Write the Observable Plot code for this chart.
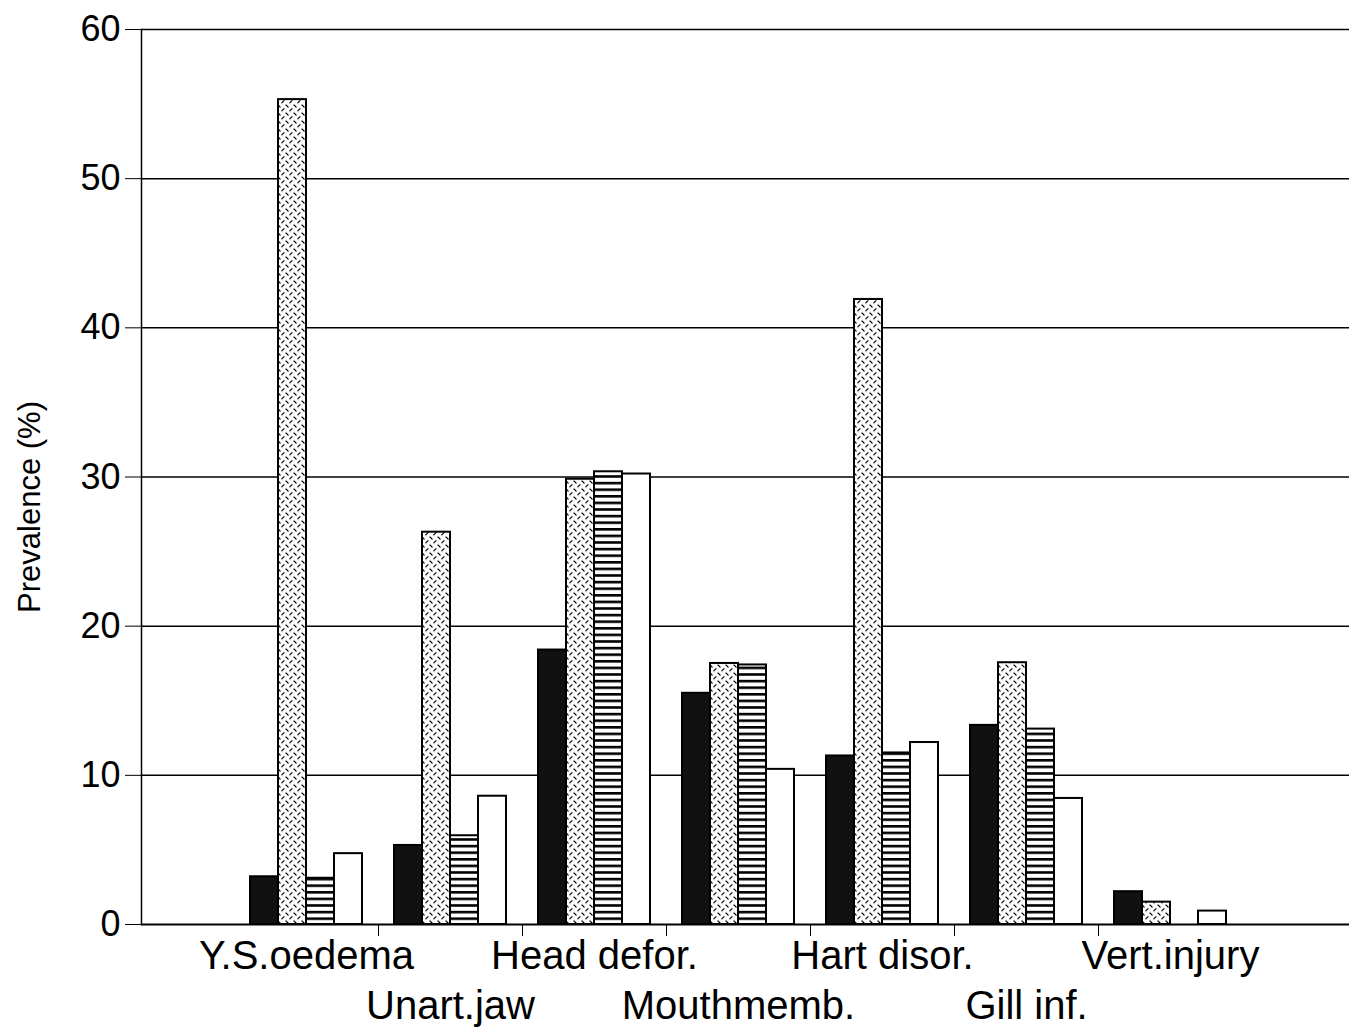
<!DOCTYPE html>
<html><head><meta charset="utf-8">
<script src="https://cdn.jsdelivr.net/npm/d3@7"></script>
<script src="https://cdn.jsdelivr.net/npm/@observablehq/plot@0.6"></script>
<style>
body{margin:0;background:#fff;}
#chart{position:relative;width:1349px;height:1027px;}
#chart svg.layer{position:absolute;left:0;top:0;}
</style>
</head><body>
<svg width="0" height="0" style="position:absolute">
<defs>
<pattern id="zig" patternUnits="userSpaceOnUse" width="8" height="8">
<rect width="8" height="8" fill="white"/>
<path d="M1,1L3.2,3.2M4.8,6.8L7,4.6" stroke="black" stroke-width="1.2" stroke-linecap="round"/>
</pattern>
<pattern id="stripes" patternUnits="userSpaceOnUse" width="8" height="6.6">
<rect width="8" height="6.6" fill="white"/>
<rect width="8" height="2.6" fill="black"/>
</pattern>
</defs></svg>
<div id="chart"></div>
<script>
const categories = ["Y.S.oedema","Unart.jaw","Head defor.","Mouthmemb.","Hart disor.","Gill inf.","Vert.injury"];
const seriesNames = ["Series 1","Series 2","Series 3","Series 4"];
const series1 = [3.2, 5.3, 18.4, 15.5, 11.3, 13.35, 2.2];
const series2 = [55.3, 26.3, 29.85, 17.5, 41.9, 17.55, 1.5];
const series3 = [3.1, 5.95, 30.35, 17.4, 11.5, 13.1, 0];
const series4 = [4.75, 8.6, 30.2, 10.4, 12.2, 8.45, 0.9];
const yTicks = [0,10,20,30,40,50,60];
const labelRow1 = ["Y.S.oedema","Head defor.","Hart disor.","Vert.injury"];
const labelRow2 = ["Unart.jaw","Mouthmemb.","Gill inf."];

const values = [series1, series2, series3, series4];
const data = categories.flatMap((c, i) => seriesNames.map((s, j) => ({category: c, series: s, value: values[j][i]}))).filter(d => d.value > 0);

const W = 1349, H = 1027, mL = 141, mR = 0, mT = 29, mB = 103;
const outerPad = 0.694, bandAlign = 0.465;
const step = (W - mL - mR) / (categories.length + 2 * outerPad);
const font = "'Liberation Sans', Arial, Helvetica, sans-serif";
const common = {width: W, height: H, marginLeft: mL, marginRight: mR, marginTop: mT, marginBottom: mB};
const bandOpts = {type: "band", domain: categories, paddingInner: 0, paddingOuter: outerPad, align: bandAlign};

// Background layer: grid, axes, labels
const base = Plot.plot({
  ...common,
  style: {fontFamily: font, background: "white", color: "black"},
  x: {...bandOpts, axis: null},
  y: {domain: [0, 60], axis: null},
  marks: [
    Plot.ruleY(yTicks.filter(d => d > 0), {stroke: "black", strokeWidth: 1.5}),
    Plot.ruleY([0], {stroke: "black", strokeWidth: 2.2}),
    Plot.frame({anchor: "left", stroke: "black", strokeWidth: 1.5}),
    Plot.axisY(yTicks, {anchor: "left", tickSize: 16, tickPadding: 5, fontSize: 36, label: null}),
    Plot.axisX(categories.slice(0, -1), {text: null, tickSize: 12, dx: step / 2, label: null}),
    Plot.axisX(labelRow1, {tickSize: 0, tickPadding: 16, fontSize: 40, label: null}),
    Plot.axisX(labelRow2, {tickSize: 0, tickPadding: 66, fontSize: 40, label: null}),
    Plot.text(["Prevalence (%)"], {frameAnchor: "left", textAnchor: "middle", dx: -111, dy: 30, rotate: -90, fontSize: 31})
  ]
});

// Foreground layer: grouped bars via facets
const bars = Plot.plot({
  ...common,
  style: {fontFamily: font, background: "none", color: "black"},
  fx: {...bandOpts, axis: null, label: null},
  x: {domain: seriesNames, paddingInner: 0, paddingOuter: 0.571, axis: null},
  y: {domain: [0, 60], axis: null},
  color: {domain: seriesNames, range: ["#111", "url(#zig)", "url(#stripes)", "white"]},
  marks: [
    Plot.barY(data, {fx: "category", x: "series", y: "value", fill: "series", stroke: "black", strokeWidth: 2})
  ]
});

base.classList.add("layer");
bars.classList.add("layer");
const root = document.getElementById("chart");
root.appendChild(base);
root.appendChild(bars);
</script>
</body></html>
